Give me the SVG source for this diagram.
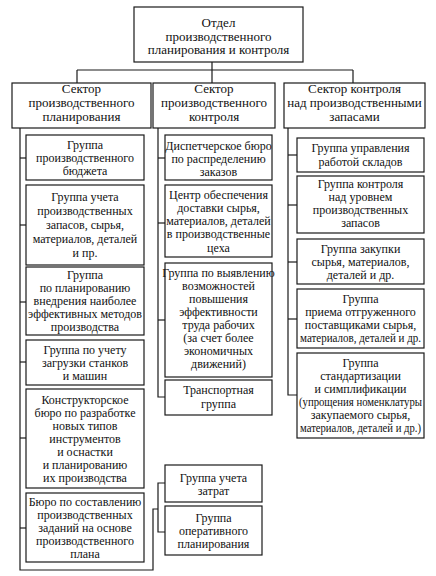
<svg xmlns="http://www.w3.org/2000/svg" width="436" height="576" viewBox="0 0 436 576">
<style>
.b{fill:#fff;stroke:#1a1a1a;stroke-width:1.2}
.c line,.c polyline{stroke:#1a1a1a;stroke-width:1.2;fill:none}
text{fill:#111;text-anchor:middle}
.t{font-size:13px}
.g{font-size:12px}
</style>
<rect width="436" height="576" fill="#fff"/>
<g class="c" id="connectors">
<line x1="212" y1="62" x2="212" y2="70"/>
<line x1="77" y1="70" x2="353" y2="70"/>
<line x1="77" y1="70" x2="77" y2="83"/>
<line x1="212" y1="70" x2="212" y2="83"/>
<line x1="353" y1="70" x2="353" y2="83"/>
<polyline points="20,128 20,570 153,570 153,509 158,509"/>
<line x1="20" y1="158" x2="26" y2="158"/>
<line x1="20" y1="225" x2="26" y2="225"/>
<line x1="20" y1="302" x2="26" y2="302"/>
<line x1="20" y1="362" x2="26" y2="362"/>
<line x1="20" y1="438" x2="26" y2="438"/>
<line x1="20" y1="528" x2="26" y2="528"/>
<polyline points="165,483 158,483 158,532 165,532"/>
<polyline points="158,128 158,397 165,397"/>
<line x1="158" y1="158" x2="165" y2="158"/>
<line x1="158" y1="223" x2="165" y2="223"/>
<line x1="158" y1="320" x2="165" y2="320"/>
<polyline points="288,128 288,395 297,395"/>
<line x1="288" y1="155" x2="297" y2="155"/>
<line x1="288" y1="205" x2="297" y2="205"/>
<line x1="288" y1="262" x2="297" y2="262"/>
<line x1="288" y1="319" x2="297" y2="319"/>
</g>
<g font-family="Liberation Serif, serif">
<g id="dept">
<rect class="b" x="134" y="7" width="169" height="55"/>
<text class="t" x="218.5" y="27">Отдел</text>
<text class="t" x="218.5" y="40.5">производственного</text>
<text class="t" x="218.5" y="54">планирования и контроля</text>
</g>
<g id="sector1">
<rect class="b" x="12" y="83" width="139" height="45"/>
<text class="t" x="81.5" y="93">Сектор</text>
<text class="t" x="81.5" y="107">производственного</text>
<text class="t" x="81.5" y="121">планирования</text>
</g>
<g id="sector2">
<rect class="b" x="153" y="83" width="122" height="45"/>
<text class="t" x="214" y="93">Сектор</text>
<text class="t" x="214" y="107">производственного</text>
<text class="t" x="214" y="121">контроля</text>
</g>
<g id="sector3">
<rect class="b" x="284" y="83" width="141" height="45"/>
<text class="t" x="354.5" y="93">Сектор контроля</text>
<text class="t" x="354.5" y="107">над производственными</text>
<text class="t" x="354.5" y="121">запасами</text>
</g>
<g id="l1">
<rect class="b" x="26" y="135" width="118" height="45"/>
<text class="g" x="85" y="149">Группа</text>
<text class="g" x="85" y="162">производственного</text>
<text class="g" x="85" y="175">бюджета</text>
</g>
<g id="l2">
<rect class="b" x="26" y="185" width="118" height="80"/>
<text class="g" x="85" y="201">Группа учета</text>
<text class="g" x="85" y="215">производственных</text>
<text class="g" x="85" y="229">запасов, сырья,</text>
<text class="g" x="85" y="243">материалов, деталей</text>
<text class="g" x="85" y="257">и пр.</text>
</g>
<g id="l3">
<rect class="b" x="26" y="267" width="118" height="68"/>
<text class="g" x="85" y="279">Группа</text>
<text class="g" x="85" y="292">по планированию</text>
<text class="g" x="85" y="305">внедрения наиболее</text>
<text class="g" x="85" y="318">эффективных методов</text>
<text class="g" x="85" y="331">производства</text>
</g>
<g id="l4">
<rect class="b" x="26" y="340" width="118" height="45"/>
<text class="g" x="85" y="354">Группа по учету</text>
<text class="g" x="85" y="367">загрузки станков</text>
<text class="g" x="85" y="380">и машин</text>
</g>
<g id="l5">
<rect class="b" x="26" y="389" width="118" height="99"/>
<text class="g" x="85" y="404">Конструкторское</text>
<text class="g" x="85" y="417">бюро по разработке</text>
<text class="g" x="85" y="430">новых типов</text>
<text class="g" x="85" y="443">инструментов</text>
<text class="g" x="85" y="456">и оснастки</text>
<text class="g" x="85" y="469">и планированию</text>
<text class="g" x="85" y="482">их производства</text>
</g>
<g id="l6">
<rect class="b" x="26" y="493" width="118" height="69"/>
<text class="g" x="85" y="506">Бюро по составлению</text>
<text class="g" x="85" y="519">производственных</text>
<text class="g" x="85" y="532">заданий на основе</text>
<text class="g" x="85" y="545">производственного</text>
<text class="g" x="85" y="558">плана</text>
</g>
<g id="b1">
<rect class="b" x="165" y="465" width="97" height="37"/>
<text class="g" x="213.5" y="482">Группа учета</text>
<text class="g" x="213.5" y="495">затрат</text>
</g>
<g id="b2">
<rect class="b" x="165" y="506" width="97" height="49"/>
<text class="g" x="213.5" y="522">Группа</text>
<text class="g" x="213.5" y="535">оперативного</text>
<text class="g" x="213.5" y="548">планирования</text>
</g>
<g id="m1">
<rect class="b" x="165" y="135" width="107" height="45"/>
<text class="g" x="218.5" y="149.5">Диспетчерское бюро</text>
<text class="g" x="218.5" y="162.5">по распределению</text>
<text class="g" x="218.5" y="175.5">заказов</text>
</g>
<g id="m2">
<rect class="b" x="165" y="185" width="107" height="72"/>
<text class="g" x="218.5" y="199">Центр обеспечения</text>
<text class="g" x="218.5" y="212">доставки сырья,</text>
<text class="g" x="218.5" y="225">материалов, деталей</text>
<text class="g" x="218.5" y="238">в производственные</text>
<text class="g" x="218.5" y="252">цеха</text>
</g>
<g id="m3">
<rect class="b" x="165" y="263" width="107" height="114"/>
<text class="g" x="218.5" y="277">Группа  по выявлению</text>
<text class="g" x="218.5" y="290">возможностей</text>
<text class="g" x="218.5" y="303">повышения</text>
<text class="g" x="218.5" y="316">эффективности</text>
<text class="g" x="218.5" y="329">труда рабочих</text>
<text class="g" x="218.5" y="342">(за счет более</text>
<text class="g" x="218.5" y="355">экономичных</text>
<text class="g" x="218.5" y="368">движений)</text>
</g>
<g id="m4">
<rect class="b" x="165" y="380" width="107" height="35"/>
<text class="g" x="218.5" y="394">Транспортная</text>
<text class="g" x="218.5" y="408">группа</text>
</g>
<g id="r1">
<rect class="b" x="297" y="138" width="127" height="34"/>
<text class="g" x="360.5" y="152">Группа управления</text>
<text class="g" x="360.5" y="166">работой складов</text>
</g>
<g id="r2">
<rect class="b" x="297" y="176" width="127" height="57"/>
<text class="g" x="360.5" y="188">Группа контроля</text>
<text class="g" x="360.5" y="201">над уровнем</text>
<text class="g" x="360.5" y="214">производственных</text>
<text class="g" x="360.5" y="227">запасов</text>
</g>
<g id="r3">
<rect class="b" x="297" y="239" width="127" height="45"/>
<text class="g" x="360.5" y="252.5">Группа закупки</text>
<text class="g" x="360.5" y="265.5">сырья, материалов,</text>
<text class="g" x="360.5" y="278.5">деталей и др.</text>
</g>
<g id="r4">
<rect class="b" x="297" y="289" width="127" height="59"/>
<text class="g" x="360.5" y="303">Группа</text>
<text class="g" x="360.5" y="316">приема отгруженного</text>
<text class="g" x="360.5" y="329">поставщиками сырья,</text>
<text class="g" x="360.5" y="342" textLength="121" lengthAdjust="spacingAndGlyphs">материалов, деталей  и др.</text>
</g>
<g id="r5">
<rect class="b" x="297" y="353" width="127" height="85"/>
<text class="g" x="360.5" y="367">Группа</text>
<text class="g" x="360.5" y="380">стандартизации</text>
<text class="g" x="360.5" y="393">и симплификации</text>
<text class="g" x="360.5" y="406" textLength="123" lengthAdjust="spacingAndGlyphs">(упрощения номенклатуры</text>
<text class="g" x="360.5" y="419">закупаемого сырья,</text>
<text class="g" x="360.5" y="432" textLength="121" lengthAdjust="spacingAndGlyphs">материалов, деталей и др.)</text>
</g>
</g>
</svg>
